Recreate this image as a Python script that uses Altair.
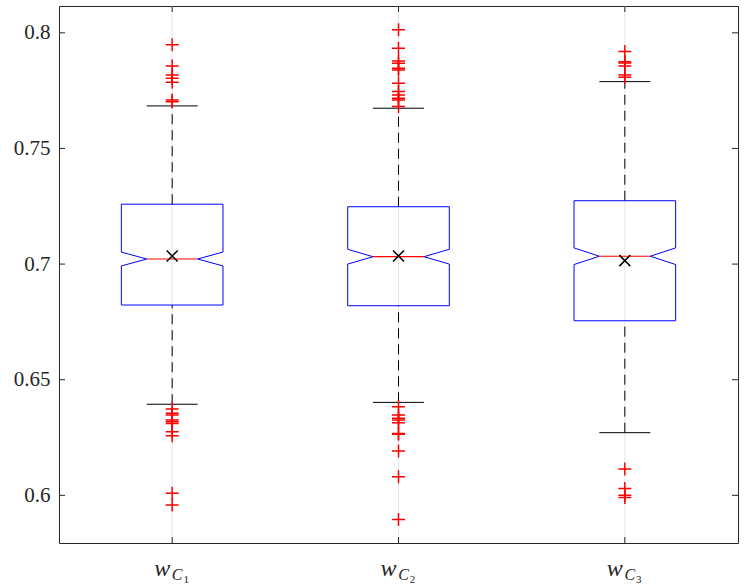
import altair as alt
import pandas as pd

# ---------------- data ----------------
positions = [1, 2, 3]
label_main = ["w", "w", "w"]
label_sub = ["C", "C", "C"]
label_subsub = ["1", "2", "3"]

q1 = [0.6823, 0.6820, 0.6755]
q3 = [0.7259, 0.7248, 0.7274]
median = [0.7022, 0.7032, 0.7034]
notch = [0.0030, 0.0032, 0.0036]
mean = [0.7035, 0.7035, 0.7015]
whisker_lo = [0.6394, 0.6402, 0.6271]
whisker_hi = [0.7684, 0.7674, 0.7789]

outliers_1 = [0.7948, 0.7857, 0.7818, 0.7804, 0.7786, 0.7710, 0.7702,
              0.6373, 0.6355, 0.6347, 0.6326, 0.6318, 0.6311, 0.6275, 0.6258,
              0.6009, 0.5958]
outliers_2 = [0.8013, 0.7933, 0.7878, 0.7868, 0.7847, 0.7839, 0.7782, 0.7746,
              0.7731, 0.7717, 0.7710, 0.7681,
              0.6383, 0.6347, 0.6333, 0.6326, 0.6314, 0.6268, 0.6264, 0.6192,
              0.6080, 0.5896]
outliers_3 = [0.7919, 0.7875, 0.7869, 0.7857, 0.7818, 0.7808,
              0.6114, 0.6030, 0.6001, 0.5991]

y_ticks = [0.6, 0.65, 0.7, 0.75, 0.8]

# ---------------- layout / style ----------------
W, H = 679, 537
box_half = 0.2245
inner_half = 0.1125
cap_half = 0.1125
AX = "#262626"
SERIF = "Liberation Serif"

xs = alt.Scale(domain=[0.5, 3.5], nice=False, zero=False)
ys = alt.Scale(domain=[0.5794, 0.8116], nice=False, zero=False)

# box outline (notched)
rows = []
for i, p in enumerate(positions):
    pts = [(p - box_half, q1[i]), (p - box_half, median[i] - notch[i]),
           (p - inner_half, median[i]), (p - box_half, median[i] + notch[i]),
           (p - box_half, q3[i]), (p + box_half, q3[i]),
           (p + box_half, median[i] + notch[i]), (p + inner_half, median[i]),
           (p + box_half, median[i] - notch[i]), (p + box_half, q1[i]),
           (p - box_half, q1[i])]
    for k, (x, y) in enumerate(pts):
        rows.append({"g": i, "k": k, "x": x, "y": y})
box_df = pd.DataFrame(rows)

stats = pd.DataFrame({
    "pos": positions, "q1": q1, "q3": q3, "med": median, "mean": mean,
    "wlo": whisker_lo, "whi": whisker_hi,
    "main": label_main, "sub": label_sub, "subsub": label_subsub,
})
stats["inl"] = stats["pos"] - inner_half
stats["inr"] = stats["pos"] + inner_half
stats["capl"] = stats["pos"] - cap_half
stats["capr"] = stats["pos"] + cap_half

whisk_df = pd.DataFrame({
    "pos": positions * 2,
    "a": q3 + whisker_lo,
    "b": whisker_hi + q1,
})
caps_df = pd.DataFrame({
    "l": list(stats["capl"]) * 2,
    "r": list(stats["capr"]) * 2,
    "y": whisker_hi + whisker_lo,
})

out_rows = []
for p, arr in zip(positions, [outliers_1, outliers_2, outliers_3]):
    for v in arr:
        out_rows.append({"pos": p, "v": v})
out_df = pd.DataFrame(out_rows)

ytick_df = pd.DataFrame({"v": y_ticks})

# ---------------- layers ----------------
grid = alt.Chart(stats).mark_rule(color="#e6e6e6", strokeWidth=1).encode(
    x=alt.X("pos:Q", scale=xs, axis=None),
    y=alt.value(0), y2=alt.value(H))

yaxis_layer = alt.Chart(ytick_df).mark_rule(color=AX, strokeWidth=1).encode(
    y=alt.Y("v:Q", scale=ys, axis=alt.Axis(
        values=y_ticks, format="~g", ticks=False, domain=False, grid=False,
        labelFont=SERIF, labelFontSize=21, labelColor=AX, labelPadding=9,
        title=None)),
    x=alt.value(0), x2=alt.value(6))

ytick_right = alt.Chart(ytick_df).mark_rule(color=AX, strokeWidth=1).encode(
    y=alt.Y("v:Q", scale=ys), x=alt.value(W - 6), x2=alt.value(W))

xtick_top = alt.Chart(stats).mark_rule(color=AX, strokeWidth=1).encode(
    x=alt.X("pos:Q", scale=xs), y=alt.value(0), y2=alt.value(6))
xtick_bot = alt.Chart(stats).mark_rule(color=AX, strokeWidth=1).encode(
    x=alt.X("pos:Q", scale=xs), y=alt.value(H - 6), y2=alt.value(H))

whiskers = alt.Chart(whisk_df).mark_rule(
    color="black", strokeWidth=1, strokeDash=[10, 6]).encode(
    x=alt.X("pos:Q", scale=xs), y=alt.Y("a:Q", scale=ys), y2="b:Q")

caps = alt.Chart(caps_df).mark_rule(color="black", strokeWidth=1).encode(
    x=alt.X("l:Q", scale=xs), x2="r:Q", y=alt.Y("y:Q", scale=ys))

boxes = alt.Chart(box_df).mark_line(color="#0000ff", strokeWidth=1).encode(
    x=alt.X("x:Q", scale=xs), y=alt.Y("y:Q", scale=ys),
    detail="g:N", order="k:Q")

medians = alt.Chart(stats).mark_rule(color="#ff0000", strokeWidth=1.2).encode(
    x=alt.X("inl:Q", scale=xs), x2="inr:Q", y=alt.Y("med:Q", scale=ys))

outliers = alt.Chart(out_df).mark_point(
    shape="M-1,0L1,0M0,-1L0,1", size=169, color="#ff0000", filled=False,
    strokeWidth=1.5, opacity=1).encode(
    x=alt.X("pos:Q", scale=xs), y=alt.Y("v:Q", scale=ys))

means = alt.Chart(stats).mark_point(
    shape="M-1,-1L1,1M-1,1L1,-1", size=121, color="black", filled=False,
    strokeWidth=1.5, opacity=1).encode(
    x=alt.X("pos:Q", scale=xs), y=alt.Y("mean:Q", scale=ys))

lab_main = alt.Chart(stats).mark_text(
    font=SERIF, fontStyle="italic", fontSize=24, color=AX,
    align="center", baseline="alphabetic", dx=-10).encode(
    x=alt.X("pos:Q", scale=xs), y=alt.value(H + 33), text="main:N")
lab_sub = alt.Chart(stats).mark_text(
    font=SERIF, fontStyle="italic", fontSize=16, color=AX,
    align="center", baseline="alphabetic", dx=5).encode(
    x=alt.X("pos:Q", scale=xs), y=alt.value(H + 37), text="sub:N")
lab_subsub = alt.Chart(stats).mark_text(
    font=SERIF, fontSize=11, color=AX,
    align="center", baseline="alphabetic", dx=14).encode(
    x=alt.X("pos:Q", scale=xs), y=alt.value(H + 40), text="subsub:N")

chart = alt.layer(
    grid, yaxis_layer, ytick_right, xtick_top, xtick_bot,
    whiskers, caps, boxes, medians, outliers, means,
    lab_main, lab_sub, lab_subsub,
).properties(
    width=W, height=H,
    padding={"left": 59, "top": 6, "right": 8, "bottom": 44},
    autosize=alt.AutoSizeParams(type="none"),
    background="white",
).configure_view(stroke=AX, strokeWidth=1)

chart.save("out.html", embed_options={"renderer": "svg", "actions": False})
